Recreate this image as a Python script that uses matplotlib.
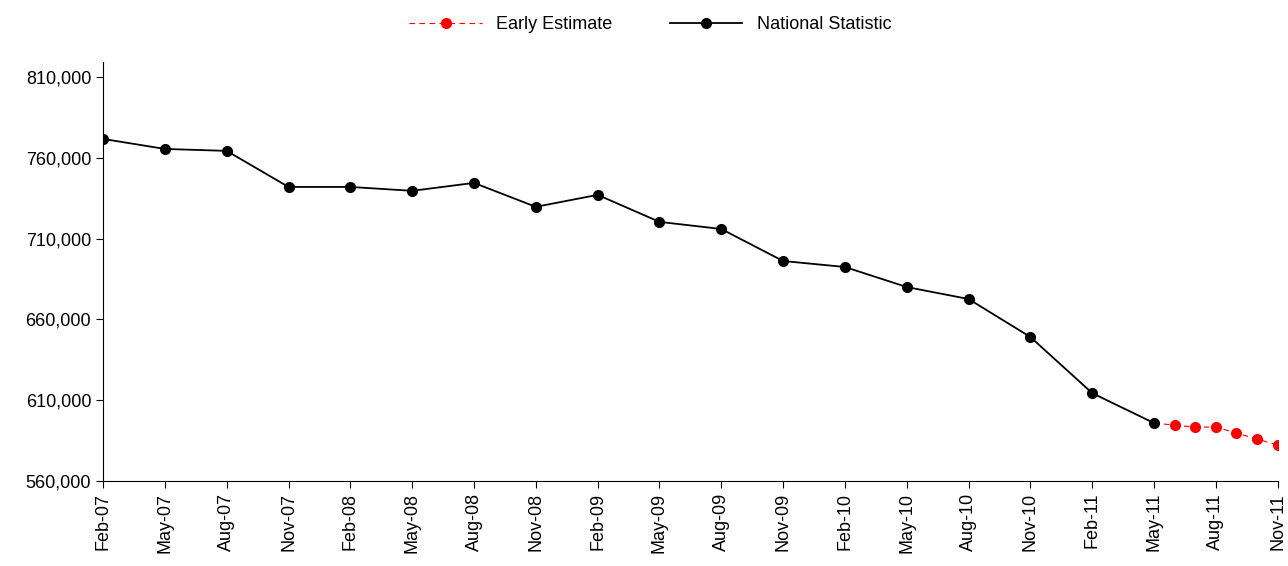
import matplotlib
matplotlib.use("Agg")
import matplotlib.pyplot as plt
import numpy as np

plt.rcParams['font.family'] = ['Liberation Sans', 'DejaVu Sans']

# quarterly national statistic, Feb-07 .. May-11
national = [771600, 765400, 764200, 741900, 741900, 739500, 744400, 729600, 737000,
            720300, 715900, 696100, 692400, 680000, 672600, 649100, 614400, 595900]
# monthly early estimates, Jun-11 .. Nov-11
early = [594600, 593400, 593400, 589700, 586000, 582300]

tick_labels = ['Feb-07', 'May-07', 'Aug-07', 'Nov-07', 'Feb-08', 'May-08', 'Aug-08', 'Nov-08',
               'Feb-09', 'May-09', 'Aug-09', 'Nov-09', 'Feb-10', 'May-10', 'Aug-10', 'Nov-10',
               'Feb-11', 'May-11', 'Aug-11', 'Nov-11']

x_nat = np.arange(len(national)) * 3
x_early = x_nat[-1] + 1 + np.arange(len(early))

fig = plt.figure(figsize=(12.88, 5.66), dpi=100)
ax = fig.add_axes([0.08, 0.15, 0.912, 0.74])

ax.plot(np.r_[x_nat[-1], x_early], np.r_[national[-1], early], color='red', ls=(0, (5, 4)),
        lw=0.8, marker='o', ms=7, markevery=list(range(1, len(early) + 1)), label='Early Estimate')
ax.plot(x_nat, national, color='black', lw=1.3, marker='o', ms=7, label='National Statistic')

ax.set_xlim(0, 57)
ax.set_ylim(560000, 819000)
ax.set_yticks(np.arange(560000, 810001, 50000))
ax.set_yticklabels([f'{v:,}' for v in range(560000, 810001, 50000)], fontsize=13)
ax.set_xticks(np.arange(0, 58, 3))
ax.set_xticklabels(tick_labels, rotation=90, fontsize=13)
for s in ['top', 'right']:
    ax.spines[s].set_visible(False)
ax.tick_params(direction='out', length=5)

fig.legend(loc='upper center', bbox_to_anchor=(0.505, 1.0), ncol=2, frameon=False,
           fontsize=13, handlelength=4, columnspacing=3.2)
fig.savefig('out.png')
